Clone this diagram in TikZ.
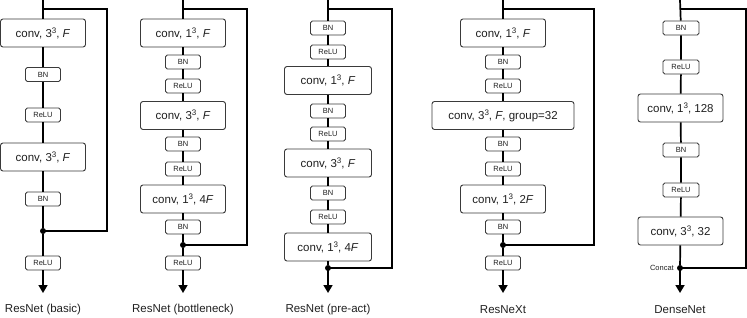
\documentclass[tikz,border=0pt]{standalone}
\usepackage{fontspec}
\setmainfont{Liberation Sans}
\usetikzlibrary{arrows.meta}
\definecolor{boxline}{HTML}{3a3a3a}
\definecolor{txt}{HTML}{202020}
\tikzset{
  convbox/.style={draw=boxline, line width=0.9pt, fill=white, rounded corners=2.5pt,
    minimum width=85pt, minimum height=28pt, inner sep=0pt, text=txt,
    font=\fontsize{11.5pt}{13pt}\selectfont},
  smallbox/.style={draw=boxline, line width=0.8pt, fill=white, rounded corners=1.8pt,
    minimum width=35pt, minimum height=14pt, inner sep=0pt, text=txt,
    font=\fontsize{7.5pt}{8pt}\selectfont},
  mainline/.style={line width=1.7pt, black},
  skipline/.style={line width=2pt, black, line join=miter},
  arrowline/.style={line width=1.7pt, black, -{Triangle[width=9pt,length=8pt]}},
  joindot/.style={circle, fill=black, inner sep=0pt, minimum size=6pt},
  title/.style={font=\fontsize{11.5pt}{13pt}\selectfont, text=txt, inner sep=0pt},
}
\newcommand{\cube}{\raisebox{0.34em}{\fontsize{8pt}{8pt}\selectfont 3}}
\newcommand{\cv}[2]{conv, #1\cube, #2}
\begin{document}
\begin{tikzpicture}[x=1pt,y=-1pt]
\useasboundingbox (0,0) rectangle (747,318);

% ---------- ResNet (basic) ----------
\coordinate (atop) at (43,0);
\coordinate (asplit) at (43,9);
\coordinate (asr) at (107,9);
\coordinate (abr) at (107,231);
\coordinate (aend) at (43,293);
\node[convbox] (ac1) at (43,33) {\cv{3}{\textit{F}}};
\node[smallbox] (ab1) at (43,74.5) {BN};
\node[smallbox] (ar1) at (43,115) {ReLU};
\node[convbox] (ac2) at (43,157) {\cv{3}{\textit{F}}};
\node[smallbox] (ab2) at (43,199) {BN};
\node[joindot] (adot) at (43,231) {};
\node[smallbox] (ar2) at (43,263) {ReLU};
\node[title] (at) at (43,310) {ResNet (basic)};
\draw[mainline] (atop) -- (ac1) (ac1) -- (ab1) (ab1) -- (ar1) (ar1) -- (ac2) (ac2) -- (ab2) (ab2) -- (adot) (adot) -- (ar2);
\draw[arrowline] (ar2) -- (aend);
\draw[skipline] (asplit) -- (asr) -- (abr) -- (adot.center);

% ---------- ResNet (bottleneck) ----------
\coordinate (btop) at (183,0);
\coordinate (bsplit) at (183,9);
\coordinate (bsr) at (247,9);
\coordinate (bbr) at (247,245);
\coordinate (bend) at (183,293);
\node[convbox] (bc1) at (183,33) {\cv{1}{\textit{F}}};
\node[smallbox] (bb1) at (183,62) {BN};
\node[smallbox] (br1) at (183,86) {ReLU};
\node[convbox] (bc2) at (183,115.5) {\cv{3}{\textit{F}}};
\node[smallbox] (bb2) at (183,144) {BN};
\node[smallbox] (br2) at (183,169) {ReLU};
\node[convbox] (bc3) at (183,199) {\cv{1}{4\textit{F}}};
\node[smallbox] (bb3) at (183,227) {BN};
\node[joindot] (bdot) at (183,245) {};
\node[smallbox] (br3) at (183,263) {ReLU};
\node[title] (bt) at (183,310) {ResNet (bottleneck)};
\draw[mainline] (btop) -- (bc1) (bc1) -- (bb1) (bb1) -- (br1) (br1) -- (bc2) (bc2) -- (bb2) (bb2) -- (br2) (br2) -- (bc3) (bc3) -- (bb3) (bb3) -- (bdot) (bdot) -- (br3);
\draw[arrowline] (br3) -- (bend);
\draw[skipline] (bsplit) -- (bsr) -- (bbr) -- (bdot.center);

% ---------- ResNet (pre-act) ----------
\coordinate (ctop) at (328,0);
\coordinate (csplit) at (328,9);
\coordinate (csr) at (392,9);
\coordinate (cbr) at (392,268);
\coordinate (cend) at (328,293);
\node[smallbox] (cb1) at (328,28) {BN};
\node[smallbox] (cr1) at (328,52) {ReLU};
\node[convbox, minimum width=87pt] (cc1) at (328,80.5) {\cv{1}{\textit{F}}};
\node[smallbox] (cb2) at (328,111) {BN};
\node[smallbox] (cr2) at (328,134) {ReLU};
\node[convbox, minimum width=87pt] (cc2) at (328,163) {\cv{3}{\textit{F}}};
\node[smallbox] (cb3) at (328,193) {BN};
\node[smallbox] (cr3) at (328,217) {ReLU};
\node[convbox, minimum width=87pt] (cc3) at (328,247) {\cv{1}{4\textit{F}}};
\node[joindot] (cdot) at (328,268) {};
\node[title] (ct) at (328,310) {ResNet (pre-act)};
\draw[mainline] (ctop) -- (cb1) (cb1) -- (cr1) (cr1) -- (cc1) (cc1) -- (cb2) (cb2) -- (cr2) (cr2) -- (cc2) (cc2) -- (cb3) (cb3) -- (cr3) (cr3) -- (cc3) (cc3) -- (cdot);
\draw[arrowline] (cdot.center) -- (cend);
\draw[skipline] (csplit) -- (csr) -- (cbr) -- (cdot.center);

% ---------- ResNeXt ----------
\coordinate (dtop) at (503,0);
\coordinate (dsplit) at (503,9);
\coordinate (dsr) at (594,9);
\coordinate (dbr) at (594,245);
\coordinate (dend) at (503,293);
\node[convbox] (dc1) at (503,33) {\cv{1}{\textit{F}}};
\node[smallbox] (db1) at (503,62) {BN};
\node[smallbox] (dr1) at (503,86) {ReLU};
\node[convbox, minimum width=142pt] (dc2) at (503,115.5) {\cv{3}{\textit{F}}, group=32};
\node[smallbox] (db2) at (503,144) {BN};
\node[smallbox] (dr2) at (503,169) {ReLU};
\node[convbox] (dc3) at (503,199) {\cv{1}{2\textit{F}}};
\node[smallbox] (db3) at (503,227) {BN};
\node[joindot] (ddot) at (503,245) {};
\node[smallbox] (dr3) at (503,263) {ReLU};
\node[title] (dt) at (503,310) {ResNeXt};
\draw[mainline] (dtop) -- (dc1) (dc1) -- (db1) (db1) -- (dr1) (dr1) -- (dc2) (dc2) -- (db2) (db2) -- (dr2) (dr2) -- (dc3) (dc3) -- (db3) (db3) -- (ddot) (ddot) -- (dr3);
\draw[arrowline] (dr3) -- (dend);
\draw[skipline] (dsplit) -- (dsr) -- (dbr) -- (ddot.center);

% ---------- DenseNet ----------
\coordinate (etop) at (680,0);
\coordinate (esplit) at (680,9);
\coordinate (esr) at (745.5,9);
\coordinate (ebr) at (745.5,268);
\coordinate (eend) at (680,293);
\node[smallbox, minimum width=36pt] (eb1) at (681,28) {BN};
\node[smallbox, minimum width=36pt] (er1) at (681,67) {ReLU};
\node[convbox] (ec1) at (680.5,108) {conv, 1\cube, 128};
\node[smallbox, minimum width=36pt] (eb2) at (681,150) {BN};
\node[smallbox, minimum width=36pt] (er2) at (681,190) {ReLU};
\node[convbox] (ec2) at (680.5,231) {conv, 3\cube, 32};
\node[joindot] (edot) at (680,268) {};
\node[font=\fontsize{7.5pt}{8pt}\selectfont, text=txt, inner sep=0pt, anchor=east] (elab) at (674,268) {Concat};
\node[title] (et) at (680,310) {DenseNet};
\draw[mainline] (etop) -- (eb1) (eb1) -- (er1) (er1) -- (ec1) (ec1) -- (eb2) (eb2) -- (er2) (er2) -- (ec2) (ec2) -- (edot);
\draw[arrowline] (edot.center) -- (eend);
\draw[skipline] (esplit) -- (esr) -- (ebr) -- (edot.center);
\end{tikzpicture}
\end{document}
